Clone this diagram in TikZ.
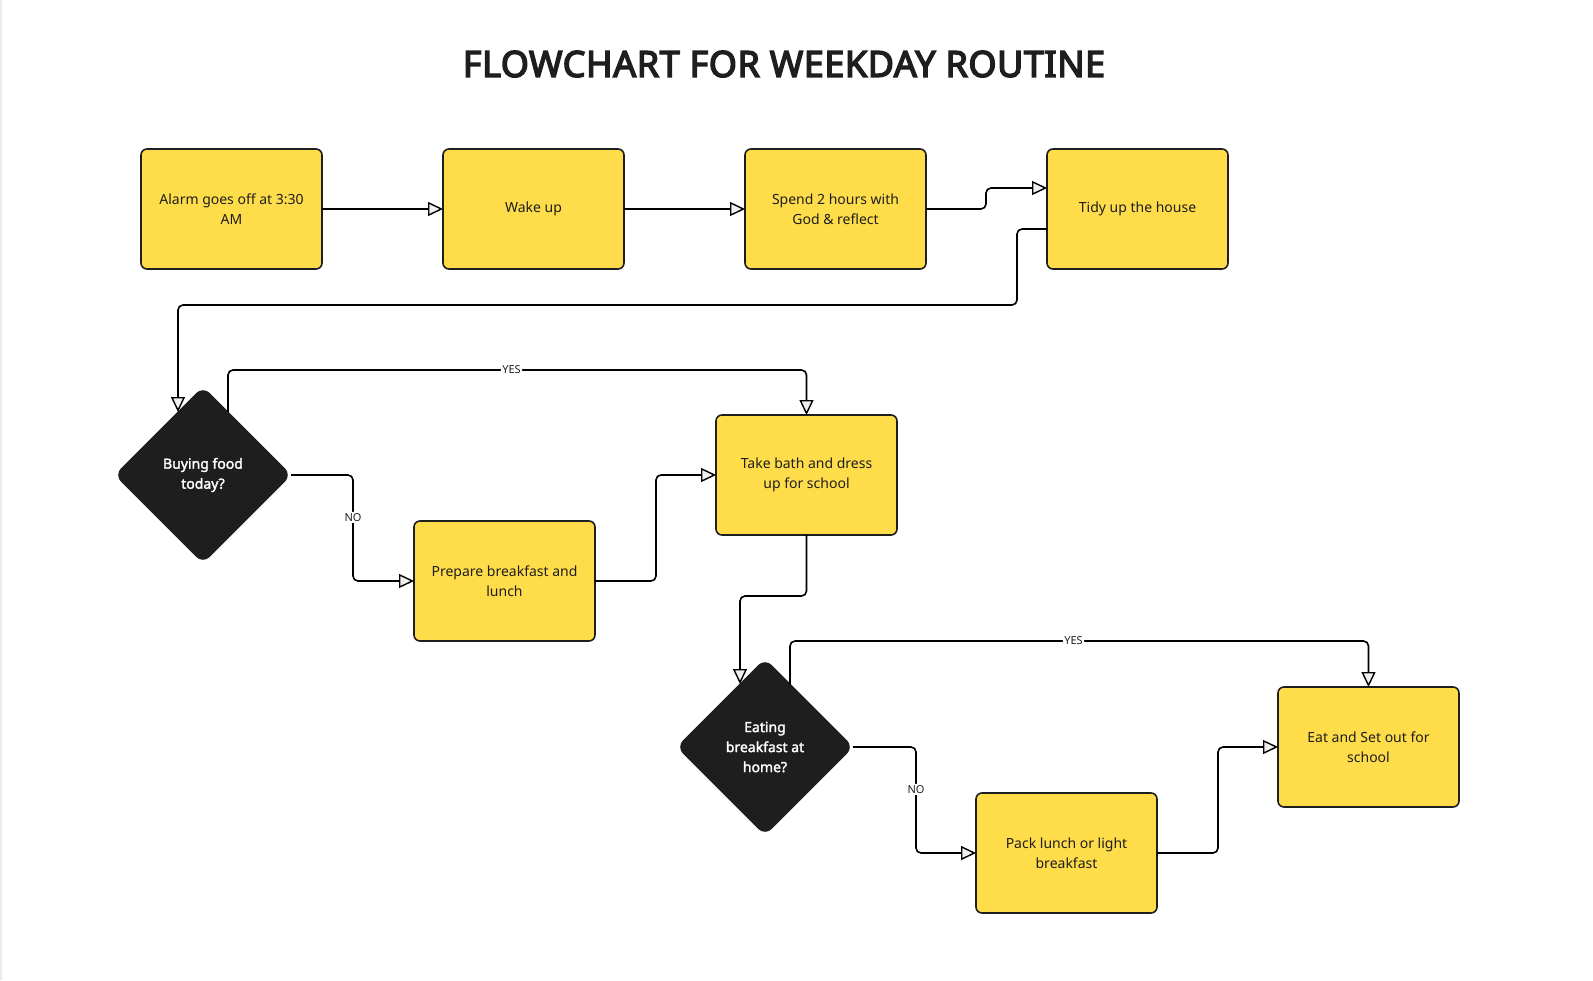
\documentclass[tikz,border=0pt]{standalone}
\usepackage{fontspec}
\setmainfont{Noto Sans}[BoldFont={Noto Sans}, BoldFeatures={FakeBold=2}]
\newfontfamily\titlefont{Noto Sans}[FakeBold=4, LetterSpace=1.5]
\usetikzlibrary{arrows.meta,shapes.geometric,calc}
\definecolor{boxyel}{HTML}{FFDC4A}
\definecolor{ink}{HTML}{1E1E1E}
\begin{document}
\begin{tikzpicture}[x=1pt,y=-1pt,
 stepbox/.style={draw=ink, line width=1.6pt, fill=boxyel, rounded corners=6pt, minimum width=181pt, minimum height=120pt, inner sep=0pt, outer sep=0pt, align=center, font=\fontsize{14}{20}\selectfont, text=ink},
 decide/.style={diamond, aspect=1, draw=ink, fill=ink, line width=1pt, minimum width=176pt, minimum height=176pt, inner sep=0pt, outer sep=0pt, rounded corners=9pt, align=center, text=white, font=\bfseries\fontsize{14}{20}\selectfont},
 conn/.style={draw=black, line width=1.6pt, rounded corners=5pt, -{Triangle[length=15pt,width=14pt,fill=black!6,line width=1.4pt]}},
 lbl/.style={fill=white, inner sep=1.5pt, font=\fontsize{11}{13}\selectfont, text=ink}]
\useasboundingbox (0,0) rectangle (1593,980);
\fill[white] (0,0) rectangle (1593,980);
\draw[black!8, line width=1.5pt] (1,0) -- (1,980);

\node[font=\titlefont\fontsize{36}{40}\selectfont, text=ink] (title) at (784,64) {FLOWCHART FOR WEEKDAY ROUTINE};

\node[stepbox] (A1) at (231.5,209) {Alarm goes off at 3:30\\AM};
\node[stepbox] (A2) at (533.5,209) {Wake up};
\node[stepbox] (A3) at (835.5,209) {Spend 2 hours with\\God \& reflect};
\node[stepbox] (A4) at (1137.5,209) {Tidy up the house};
\node[decide] (D1) at (203,475) {Buying food\\today?};
\node[stepbox] (B1) at (504.5,581) {Prepare breakfast and\\lunch};
\node[stepbox] (B2) at (806.5,475) {Take bath and dress\\up for school};
\node[decide] (D2) at (765,747) {Eating\\breakfast at\\home?};
\node[stepbox] (C1) at (1066.5,853) {Pack lunch or light\\breakfast};
\node[stepbox] (C2) at (1368.5,747) {Eat and Set out for\\school};

\path (D1.north) ++(-25,25) coordinate (D1in);
\path (D1.north) ++(25,25) coordinate (D1yes);
\path (D2.north) ++(-25,25) coordinate (D2in);
\path (D2.north) ++(25,25) coordinate (D2yes);

\draw[conn] (A1.east) -- (A2.west);
\draw[conn] (A2.east) -- (A3.west);
\draw[conn] (A3.east) -- ++(60,0) |- ($(A4.west)+(0,-21)$);
\draw[conn] ($(A4.west)+(0,20)$) -| (1017,305) -| (D1in);
\draw[conn] (D1yes) |- ($(B2.north)+(0,-45)$) node[lbl,pos=0.745]{YES} -- (B2.north);
\draw[conn] (D1.east) -- ++(62,0) |- (B1.west) node[lbl,pos=0.2]{NO};
\draw[conn] (B1.east) -- ++(61,0) |- (B2.west);
\draw[conn] (B2.south) -- ++(0,61) -| (D2in);
\draw[conn] (D2yes) |- ($(C2.north)+(0,-46)$) node[lbl,pos=0.745]{YES} -- (C2.north);
\draw[conn] (D2.east) -- ++(63,0) |- (C1.west) node[lbl,pos=0.2]{NO};
\draw[conn] (C1.east) -- ++(61,0) |- (C2.west);
\end{tikzpicture}
\end{document}
